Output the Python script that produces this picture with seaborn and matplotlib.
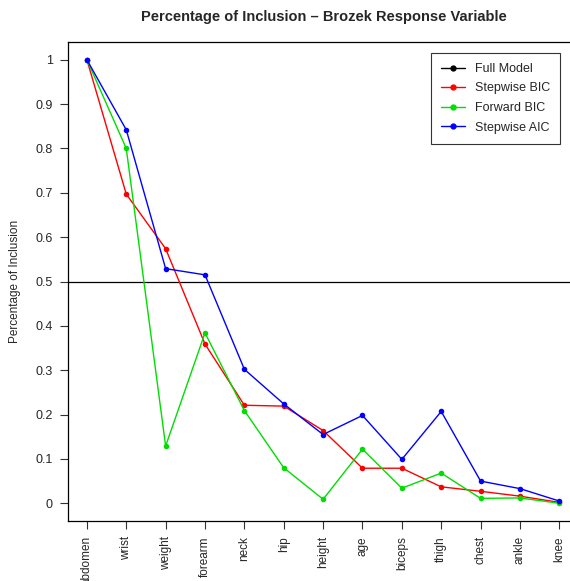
import matplotlib
matplotlib.use("Agg")
import matplotlib.pyplot as plt
import seaborn as sns
import pandas as pd
from matplotlib.lines import Line2D

variables = ["abdomen", "wrist", "weight", "forearm", "neck", "hip", "height",
             "age", "biceps", "thigh", "chest", "ankle", "knee"]
stepwise_bic = [1.0, 0.697, 0.574, 0.359, 0.221, 0.219, 0.164, 0.079, 0.079, 0.037, 0.027, 0.016, 0.002]
forward_bic = [1.0, 0.800, 0.129, 0.384, 0.209, 0.080, 0.009, 0.122, 0.034, 0.068, 0.011, 0.012, 0.0]
stepwise_aic = [1.0, 0.842, 0.529, 0.515, 0.302, 0.224, 0.155, 0.198, 0.099, 0.207, 0.050, 0.033, 0.005]
series_names = ["Full Model", "Stepwise BIC", "Forward BIC", "Stepwise AIC"]
colors = {"Full Model": "black", "Stepwise BIC": "#ff0000", "Forward BIC": "#00dd00", "Stepwise AIC": "#0000ff"}
ref_line = 0.5

rows = []
for name, vals in [("Stepwise BIC", stepwise_bic), ("Forward BIC", forward_bic), ("Stepwise AIC", stepwise_aic)]:
    for i, (v, val) in enumerate(zip(variables, vals)):
        rows.append({"idx": i, "variable": v, "value": val, "model": name})
df = pd.DataFrame(rows)

sns.set_style("ticks")
plt.rcParams["font.family"] = ["Liberation Sans", "DejaVu Sans"]

fig = plt.figure(figsize=(5.70, 5.81), dpi=100)
ax = fig.add_axes([68/570, 60/581, (579-68)/570, (521-42)/581])

ax.axhline(ref_line, color="black", lw=0.9, zorder=1)
sns.lineplot(data=df, x="idx", y="value", hue="model",
             hue_order=["Stepwise BIC", "Forward BIC", "Stepwise AIC"],
             palette=colors, marker="o", markersize=4, markeredgewidth=0,
             linewidth=1.0, ax=ax, legend=False, zorder=3)

ax.set_xlim(-0.48, 12.5)
ax.set_ylim(-0.04, 1.04)
ax.set_xticks(range(len(variables)))
ax.set_xticklabels(variables, rotation=90, fontsize=8.5)
ax.set_yticks([0, 0.1, 0.2, 0.3, 0.4, 0.5, 0.6, 0.7, 0.8, 0.9, 1.0])
ax.set_yticklabels(["0", "0.1", "0.2", "0.3", "0.4", "0.5", "0.6", "0.7", "0.8", "0.9", "1"], fontsize=9)
ax.tick_params(axis="both", direction="out", length=6, width=0.8, color="#333333")
ax.tick_params(axis="x", pad=5)
ax.tick_params(axis="y", pad=5)
ax.set_xlabel("")
ax.set_ylabel("Percentage of Inclusion", fontsize=8.5, labelpad=10)
for s in ax.spines.values():
    s.set_color("black")
    s.set_linewidth(0.9)

ax.set_title("Percentage of Inclusion \u2013 Brozek Response Variable", fontsize=10.5,
             fontweight="bold", pad=15)

handles = [Line2D([0], [0], color=colors[n], marker="o", markersize=3.5, lw=1.0) for n in series_names]
leg = ax.legend(handles, series_names, loc="upper left", bbox_to_anchor=((431-68)/511, (521-53)/479),
                fontsize=9, frameon=True, fancybox=False, edgecolor="black",
                handlelength=1.9, borderpad=0.8, labelspacing=0.6, handletextpad=0.8,
                borderaxespad=0)
leg.get_frame().set_linewidth(0.8)

fig.savefig("out.png", dpi=100)
